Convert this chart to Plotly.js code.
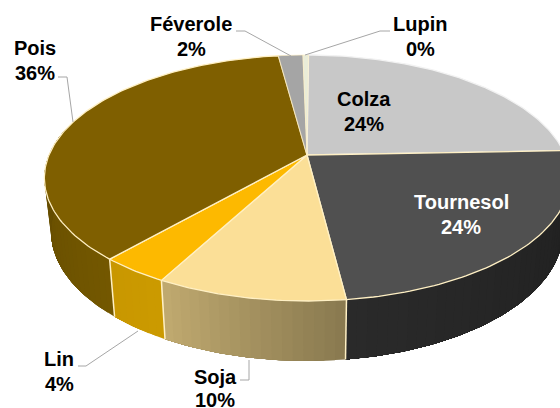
<!DOCTYPE html>
<html><head><meta charset="utf-8">
<script src="https://cdn.plot.ly/plotly-3.0.1.min.js"></script>
<style>html,body{margin:0;padding:0;background:#fff}#c{width:560px;height:408px}</style>
</head><body><div id="c"></div>
<script>
const categories = ["Colza","Tournesol","Soja","Lin","Pois","Féverole","Lupin"];
const values = [24.3,23.6,9.8,3.6,36.49,1.8,0.41];
const topColors = ["#c8c8c8","#505050","#fbdf97","#fdb900","#7f5f00","#a5a5a5","#e9ecd9"];
const wallLeft = ["#c8c8c8","#2a2a2a","#bfa96f","#c99700","#5f4800","#a5a5a5","#e9ecd9"];
const wallRight = ["#c8c8c8","#1e1e1e","#8a7a50","#cb9a00","#735700","#a5a5a5","#e9ecd9"];
const labelColors = ["#000","#fff","#000","#000","#000","#000","#000"];

const startAngle=0.4;
const cx=307, cy=155, A=118.7, B=258, k=0.187, shrink=0.975, depth=51.7;
const rad = d => d*Math.PI/180;
function topPt(th){const s=Math.sin(rad(th)),t=Math.cos(rad(th)),w=1+k*t;return [cx+B*s/w, cy-A*t/w];}
function botPt(th){const s=Math.sin(rad(th)),t=Math.cos(rad(th)),w=1+k*t;return [cx+shrink*B*s/w, cy-shrink*A*t/w+depth/w];}
function lerpHex(a,b,f){const p=h=>[1,3,5].map(i=>parseInt(h.substr(i,2),16));const x=p(a),y=p(b);
  return "rgb("+x.map((v,i)=>Math.round(v+(y[i]-v)*f)).join(",")+")";}

const total=values.reduce((a,b)=>a+b,0);
let acc=0; const ranges=values.map(v=>{const r=[startAngle+acc/total*360,startAngle+(acc+v)/total*360];acc+=v;return r;});
const traces=[]; const rim="#fff0c4";
const none={color:"rgba(0,0,0,0)",width:0};

// walls: front part of each slice, painted as overlapping strips so no seams show
ranges.forEach((r,i)=>{
  const a=Math.max(r[0],80), b=Math.min(r[1],285);
  if(b<=a) return;
  const n=Math.max(1,Math.ceil((b-a)/2));
  for(let j=0;j<n;j++){
    const t0=a+(b-a)*j/n, m=Math.ceil(b-t0)+1;
    const xs=[],ys=[];
    for(let q=0;q<=m;q++){const p=topPt(t0+(b-t0)*q/m);xs.push(p[0]);ys.push(p[1]);}
    for(let q=m;q>=0;q--){const p=botPt(t0+(b-t0)*q/m);xs.push(p[0]);ys.push(p[1]);}
    xs.push(xs[0]);ys.push(ys[0]);
    // angle increases from right to left along the front of the pie
    const col=lerpHex(wallRight[i],wallLeft[i],n>1?j/(n-1):0);
    traces.push({type:"scatter",mode:"lines",x:xs,y:ys,fill:"toself",fillcolor:col,line:none,hoverinfo:"skip",showlegend:false});
  }
});
// wall separators at the visible slice boundaries
[2,3,4].forEach(i=>{
  const p=topPt(ranges[i][0]),q=botPt(ranges[i][0]);
  traces.push({type:"scatter",mode:"lines",x:[p[0],q[0]],y:[p[1],q[1]],line:{color:rim,width:1.5},hoverinfo:"skip",showlegend:false});
});
// top faces
ranges.forEach((r,i)=>{
  const xs=[cx],ys=[cy];
  const n=Math.max(2,Math.ceil(r[1]-r[0]));
  for(let q=0;q<=n;q++){const p=topPt(r[0]+(r[1]-r[0])*q/n);xs.push(p[0]);ys.push(p[1]);}
  xs.push(cx);ys.push(cy);
  traces.push({type:"scatter",mode:"lines",x:xs,y:ys,fill:"toself",fillcolor:topColors[i],
    line:{color:i===0?"#f2f2f2":rim,width:i===5||i===6?0.6:1.3},name:categories[i],hoverinfo:"name",showlegend:false});
});

const font={family:"Liberation Sans, Arial, sans-serif",size:20,color:"#000"};
const labelPos=[[364,99],[461,202],[215,377],[59,359],[35,48],[191,24],[420,24]];
const lineGap=24.5;
const annotations=[];
categories.forEach((c,i)=>{
  const f=Object.assign({},font,{color:labelColors[i]});
  annotations.push({x:labelPos[i][0],y:labelPos[i][1],xref:"x",yref:"y",text:"<b>"+c+"</b>",showarrow:false,font:f,xanchor:"center",yanchor:"middle"});
  annotations.push({x:labelPos[i][0],y:labelPos[i][1]+(i===2?23:lineGap),xref:"x",yref:"y",text:"<b>"+Math.round(values[i])+"%</b>",showarrow:false,font:f,xanchor:"center",yanchor:"middle"});
});
const leaders=[
  "M236,31 L245,31 L291,56",
  "M390,31 L380,31 L305,55",
  "M58,77 L67,77 L73,122",
  "M78,366 L86,366 L138,331",
  "M240,380 L249,380 L249,360"
];
const shapes=leaders.map(p=>({type:"path",path:p,xref:"x",yref:"y",line:{color:"#a6a6a6",width:1}}));

Plotly.newPlot("c",traces,{
  width:560,height:408,margin:{l:0,r:0,t:0,b:0},
  paper_bgcolor:"#fff",plot_bgcolor:"#fff",showlegend:false,
  xaxis:{range:[0,560],visible:false,fixedrange:true},
  yaxis:{range:[408,0],visible:false,fixedrange:true},
  annotations,shapes
},{displayModeBar:false,staticPlot:true});
</script></body></html>
